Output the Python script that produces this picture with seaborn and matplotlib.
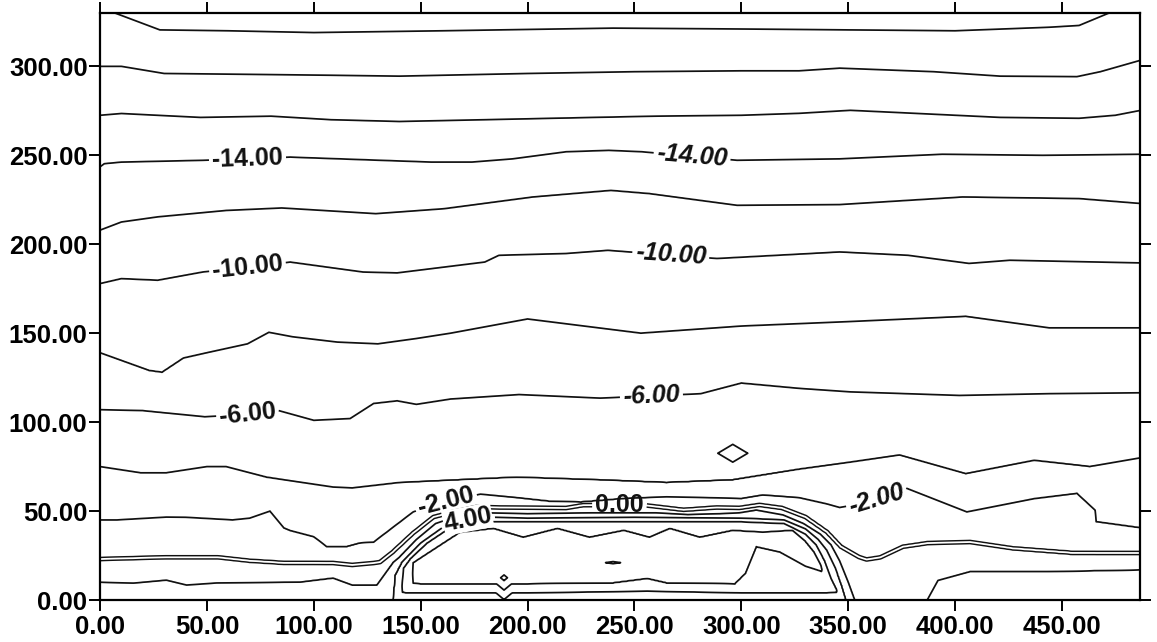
import numpy as np
import matplotlib
matplotlib.use("Agg")
import matplotlib.pyplot as plt
from matplotlib.ticker import FormatStrFormatter
import seaborn as sns

# ---------------- contour lines: (x, y) vertices per level ----------------
lvl_m20_x = [0, 7, 28, 60, 100, 160, 240, 300, 400, 444, 458, 474, 487]
lvl_m20_y = [331, 330, 320.5, 320, 319, 320, 321.5, 321, 320, 322, 323, 331, 337]

lvl_m18_x = [0, 10, 30, 70, 108, 140, 200, 250, 300, 327, 346, 390, 421, 457, 468, 487]
lvl_m18_y = [300, 300, 296, 295.5, 295, 294.5, 296, 297, 297.5, 297.5, 299, 297, 294.5, 294.2, 297, 303.5]

lvl_m16_x = [0, 10, 47, 80, 108, 140, 200, 260, 300, 327, 351, 374, 421, 458, 475, 487]
lvl_m16_y = [272.5, 273.5, 271.3, 272, 270, 269, 270.5, 272, 272.5, 273.6, 275.3, 274, 271.3, 270.8, 272.5, 275.3]

lvl_m14_x = [0, 2, 10, 48, 89, 155, 174, 193, 218, 238, 253.5, 298, 346, 394, 441, 487]
lvl_m14_y = [243.5, 245.3, 246.2, 247.2, 249, 246.2, 246.2, 248, 252, 252.8, 252, 247.2, 248, 250.6, 250, 250.6]

lvl_m12_x = [0, 10, 27, 59, 85, 129, 161, 202.5, 239, 257, 298, 346, 403.5, 458, 487]
lvl_m12_y = [207.9, 212.5, 215.4, 219, 220.4, 217.2, 220, 226.6, 230.3, 228.5, 221.9, 222.3, 226.6, 225.7, 222.9]

lvl_m10_x = [0, 10, 27, 48, 89, 123, 139, 180, 186.6, 218, 237.6, 288.6, 346, 378, 406.5, 425.6, 487]
lvl_m10_y = [177.9, 180.7, 179.8, 184.4, 190, 184.4, 183.9, 190, 193.8, 194.8, 196.6, 192, 195.7, 193.8, 189.2, 191, 189.5]

lvl_m8_x = [0, 23, 29, 39, 50, 69, 79, 90, 111, 130, 148, 164, 200, 253, 300, 350, 405, 444, 487]
lvl_m8_y = [139, 129, 128, 136, 139, 144, 150.5, 148, 145, 144, 147, 150, 158, 150, 154, 156.5, 159.5, 153, 153]

lvl_m6_x = [0, 20, 49, 65, 82, 100, 117, 128, 139, 148, 164, 196, 234, 281, 300, 327, 351, 402, 444, 487]
lvl_m6_y = [107, 106.5, 103, 104, 107, 101, 102, 110.5, 112, 110, 113, 115.5, 113.5, 116, 122, 119, 117, 115, 116, 116.5]

lvl_m4_x = [0, 19, 31, 50, 59, 78, 109, 118, 140, 195, 234, 265, 296, 327, 351, 374, 405, 437, 463, 487]
lvl_m4_y = [75, 71.5, 71.5, 75, 75, 69, 63.5, 63, 66, 69, 67.5, 66, 67.5, 73.5, 77.5, 81.5, 71, 78.5, 75, 80]

lvl_m2_x = [0, 8, 31, 40, 62, 70, 79.5, 86, 89, 100, 106, 115.5, 121.6, 128, 146.5, 160, 178, 195, 210,
            225, 245, 265, 285, 300, 310, 327, 340, 346, 360, 377, 405.5, 437, 457, 465.5, 466, 487]
lvl_m2_y = [45, 45, 46.6, 46.5, 45, 46, 50, 40.5, 39, 35.5, 30, 30, 32, 32.5, 49.5, 55, 59.5, 57.5, 55.5,
            55, 57, 58, 57.5, 57, 59, 57.5, 54, 52, 55, 63, 49.5, 57, 60, 50.5, 44, 40.5]

lvl_0_x = [0, 31, 55, 70, 86, 109, 118, 128, 131, 137, 146.5, 156, 165, 176, 187, 218, 226, 254, 273, 288.6,
           299, 308.5, 319, 330, 340, 346.5, 355, 358.6, 365, 375.6, 387, 407, 427, 455, 487]
lvl_0_y = [23, 24, 24, 22, 20.8, 20.8, 19.7, 20.8, 21.3, 27, 37.6, 46.6, 49.4, 52.2, 52, 51.7, 53.4, 53.4, 50.6, 52,
           51.7, 53.4, 51.7, 46.6, 38.2, 30, 24.2, 22.8, 24, 30, 32, 32.6, 29, 26.4, 26.4]

lvl_p2a_x = [0, 15.6, 31, 40.5, 54.6, 93.6, 109, 118, 129.5, 137, 140, 148, 157, 168, 180, 200, 230, 260, 275,
             290, 299, 307, 319.5, 329, 337, 342, 346, 350, 353]
lvl_p2a_y = [10, 9.5, 11.2, 8.4, 9.6, 10.1, 12.4, 8.4, 8.4, 21, 24, 34, 43, 47.5, 49, 48.5, 49, 49, 48,
             48.5, 49, 50.6, 47.8, 43, 37, 31, 22, 10, 0]

lvl_p2b_x = [387, 392, 407, 443, 487]
lvl_p2b_y = [0, 11, 16, 16, 17]

lvl_p4_x = [137, 138, 141, 150, 160, 172, 185, 200, 250, 300, 320, 330, 336, 340, 344, 347, 349]
lvl_p4_y = [0, 14, 21, 32, 40.5, 45.5, 46.5, 46, 46.5, 46, 45, 40, 34, 28, 18, 8, 0]

# closed loops over the buried body: upper and lower branches
loop6_up_x = [141, 142, 145, 153, 163, 176, 200, 250, 300, 320, 330, 335, 339, 342, 345]
loop6_up_y = [4.5, 18, 23, 32, 40, 44, 44, 44, 44, 43, 37, 31, 22, 12, 4.5]
loop6_lo_x = [141, 143, 200, 256, 300, 340, 345]
loop6_lo_y = [4.5, 4, 4, 5, 4, 4, 4.5]

loop8_up_x = [146, 146.5, 168.4, 184, 198, 214, 229, 245, 257, 266.6, 280.6, 296, 310, 324, 330, 334, 337, 338]
loop8_up_y = [9.5, 21, 38.2, 40.4, 35.4, 40.4, 35.4, 39.3, 35.4, 40.4, 35.4, 39.3, 38.2, 39.3, 33, 27, 20, 16]
loop8_lo_x = [146, 150, 200, 240, 256, 265, 297, 302, 307, 318, 330, 338]
loop8_lo_y = [9.5, 9, 9, 9.5, 12, 9.5, 9, 15, 30, 27, 19, 16]

# value along the bottom edge (y = 0)
floor_x = [0, 128, 137, 140, 344, 349, 353, 357, 383, 387, 392, 487]
floor_z = [3, 3, 4, 5, 5, 4, 2, 1, 1, 2, 3, 3]

# small isolated closed contours
spot_x = [296, 189, 240]
spot_y = [82.5, 12.5, 21]
spot_hw = [7, 1.6, 3.5]
spot_hh = [5, 1.6, 0.6]
spot_lev = [-4, 10, 10]

# contour labels: level -> positions
lab_m14 = [(69, 248), (277, 250)]
lab_m10 = [(69, 187), (267, 194)]
lab_m6 = [(69, 105), (258, 113.5)]
lab_m2 = [(162, 54), (363, 58)]
lab_0 = [(243, 53.4)]
lab_4 = [(172, 45.5)]

x_ticks = [0, 50, 100, 150, 200, 250, 300, 350, 400, 450]
y_ticks = [0, 50, 100, 150, 200, 250, 300]

# ---------------- build the gridded field from the read contour lines ----------------
single_levels = [(-20, lvl_m20_x, lvl_m20_y), (-18, lvl_m18_x, lvl_m18_y), (-16, lvl_m16_x, lvl_m16_y),
                 (-14, lvl_m14_x, lvl_m14_y), (-12, lvl_m12_x, lvl_m12_y), (-10, lvl_m10_x, lvl_m10_y),
                 (-8, lvl_m8_x, lvl_m8_y), (-6, lvl_m6_x, lvl_m6_y), (-4, lvl_m4_x, lvl_m4_y),
                 (-2, lvl_m2_x, lvl_m2_y), (0, lvl_0_x, lvl_0_y), (2, lvl_p2a_x, lvl_p2a_y),
                 (2, lvl_p2b_x, lvl_p2b_y), (4, lvl_p4_x, lvl_p4_y)]
loops = [(6, loop6_up_x, loop6_up_y, loop6_lo_x, loop6_lo_y),
         (8, loop8_up_x, loop8_up_y, loop8_lo_x, loop8_lo_y)]


def along(xs, ys, x):
    if x < xs[0] or x > xs[-1]:
        return None
    return float(np.interp(x, xs, ys))


gx = np.arange(0, 487.001, 0.5)
gy = np.arange(0, 345.001, 0.5)
Z = np.zeros((gy.size, gx.size))
for j, x in enumerate(gx):
    knots = [(0.0, float(np.interp(x, floor_x, floor_z)))]
    for lev, xs, ys in single_levels:
        y = along(xs, ys, x)
        if y is not None and y > 0.05:
            knots.append((y, lev))
    inner = None
    for lev, ux, uy, lx, ly in loops:
        yu = along(ux, uy, x)
        yl = along(lx, ly, x)
        if yu is not None and yl is not None and yu - yl > 0.2:
            knots += [(yl, lev), (yu, lev)]
            inner = (lev, yl, yu)
    if inner is not None:
        knots.append(((inner[1] + inner[2]) / 2.0, inner[0] + 1))
    knots.append((along(lvl_m20_x, lvl_m20_y, x) + 30, -22.4))
    knots.sort()
    ky, kz = zip(*knots)
    Z[:, j] = np.interp(gy, ky, kz)

GX, GY = np.meshgrid(gx, gy)
for sx, sy, hw, hh, lev in zip(spot_x, spot_y, spot_hw, spot_hh, spot_lev):
    Z = np.maximum(Z, lev + 0.6 * (1 - np.abs(GX - sx) / hw - np.abs(GY - sy) / hh))

# ---------------- draw ----------------
sns.set_style("ticks")
plt.rcParams["font.family"] = ["Liberation Sans", "DejaVu Sans"]
plt.rcParams["font.weight"] = "bold"
plt.rcParams["contour.negative_linestyle"] = "solid"

fig = plt.figure(figsize=(11.57, 6.42), dpi=100)
ax = fig.add_axes([100 / 1157, 42 / 642, 1040 / 1157, 587 / 642])

ink = "#111111"
lw = 1.25
fs = 18
plain_levels = [-20, -18, -16, -12, -8, -4, 2, 6, 8, 10]
ax.contour(gx, gy, Z, levels=plain_levels, colors=ink, linewidths=lw, linestyles="solid")

labelled = [(-14, lab_m14), (-10, lab_m10), (-6, lab_m6), (-2, lab_m2), (4, lab_4)]
for lev, pos in labelled:
    cs = ax.contour(gx, gy, Z, levels=[lev], colors=ink, linewidths=lw, linestyles="solid")
    txts = list(ax.clabel(cs, manual=pos, inline=True, fmt="%.2f", fontsize=fs, inline_spacing=3))
    if lev in (-14, -10, -6, -2) and len(txts) > 1:
        txts[-1].set_style("italic")
    if lev == 4:
        for t in txts:
            t.set_bbox(dict(facecolor="white", edgecolor="none", pad=0.3))
    for t in txts:
        t.set_zorder(5)

# zero contour drawn as a double line
c0 = ax.contour(gx, gy, Z, levels=[0], colors=ink, linewidths=3.4, linestyles="solid")
for t in ax.clabel(c0, manual=lab_0, inline=True, fmt="%.2f", fontsize=fs, inline_spacing=3):
    t.set_zorder(5)
ax.contour(gx, gy, Z, levels=[0], colors="white", linewidths=1.3, linestyles="solid", zorder=2.5)

ax.set_xlim(0, 486.5)
ax.set_ylim(0, 330)
ax.set_xticks(x_ticks)
ax.set_yticks(y_ticks)
ax.xaxis.set_major_formatter(FormatStrFormatter("%.2f"))
ax.yaxis.set_major_formatter(FormatStrFormatter("%.2f"))
ax.tick_params(axis="both", which="major", direction="out", length=8, width=1.4, color="black",
               labelsize=18.5, labelcolor="black", top=True, right=True, labeltop=False, labelright=False)
ax.tick_params(axis="y", pad=1)
ax.tick_params(axis="x", pad=3)
for lbl in ax.get_xticklabels() + ax.get_yticklabels():
    lbl.set_fontweight("bold")
for s in ax.spines.values():
    s.set_visible(True)
    s.set_linewidth(1.6)
    s.set_color("black")
ax.grid(False)
ax.set_facecolor("white")
fig.patch.set_facecolor("white")

fig.savefig("out.png", dpi=100, facecolor="white")
